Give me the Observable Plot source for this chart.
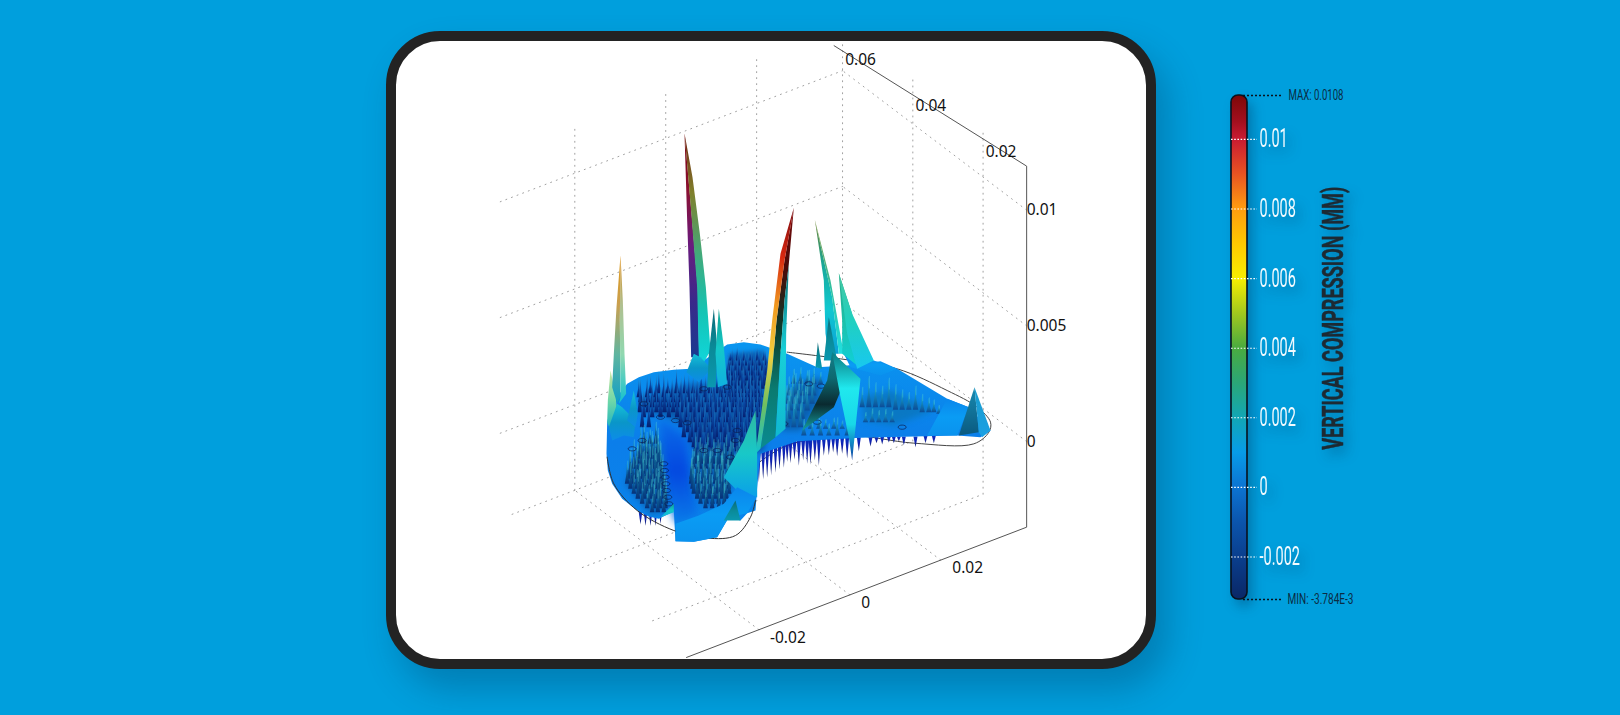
<!DOCTYPE html>
<html><head><meta charset="utf-8">
<script src="https://cdn.jsdelivr.net/npm/d3@7"></script>
<script src="https://cdn.jsdelivr.net/npm/@observablehq/plot@0.6"></script>
<style>
html,body{margin:0;padding:0;width:1620px;height:715px;overflow:hidden;background:#009fdd}
#card{position:absolute;left:386px;top:31px;width:750px;height:618px;border:10px solid #232323;border-radius:54px;background:#fff;overflow:hidden;box-shadow:12px 20px 34px rgba(0,60,100,.33)}
#card svg,#legend svg{display:block;background:transparent}
#legend{position:absolute;left:1220px;top:70px}
</style></head><body>
<div id="card"></div><div id="legend"></div>
<script>
// ---- axis ticks (model units) ----
const xTicks=[-0.02,0,0.02], xTickShift=[29,16,27];
const yTicks=[0.02,0.04,0.06];
const zTicks=[0,0.005,0.01];
const xExtent=[-0.0364,0.0389], yExtent=[0.0076,0.06], zExtent=[-0.0037,0.0119];
const floorLeft=-0.0338;
// ---- colour legend ----
const legendTicks=[-0.002,0,0.002,0.004,0.006,0.008,0.01];
const legendLabels=["-0.002","0","0.002","0.004","0.006","0.008","0.01"];
const legendEnds=[-0.00322,0.01126];
const legendTitle="VERTICAL COMPRESSION (MM)";
const maxLabel="MAX: 0.0108", minLabel="MIN: -3.784E-3";
const legendValues=[-0.00322,-0.002,-0.001,0,0.001,0.002,0.003,0.004,0.005,0.006,0.007,0.008,0.009,0.01,0.0105,0.01126];
const legendColors=["#0a2766","#0a3f8e","#0b55ad","#0c74d2","#079ce8","#12a6b4","#2ba677","#4aab3f","#a2c81e","#f8ee00","#ffc800","#ff9c10","#e95322","#c91b32","#a30f1e","#7d0808"];
// ---- plate in picture units ----
const plateTop=[[80,905],[88,870],[105,835],[140,790],[175,770],[220,755],[280,748],[330,745],[400,700],[440,672],[490,665],[540,672],[620,700],[710,740],[800,735],[900,722],[950,745],[1000,775],[1100,835],[1165,860],[1230,930],[1200,950],[1130,945],[840,952],[650,962],[540,1000],[530,1100],[525,1170],[500,1178],[480,1200],[445,1190],[410,1250],[340,1264],[285,1262],[280,1172],[235,1195],[205,1188],[170,1170],[125,1135],[95,1090],[82,1050],[78,1000]];
const rimBack=[[530,1030],[620,975],[800,945],[1000,968],[1180,970],[1225,935],[1230,905],[1190,860],[1100,810],[950,745],[780,715],[620,695]];
const rimFront=[[80,1010],[100,1090],[170,1170],[280,1230],[380,1253],[465,1245],[510,1190],[525,1140]];
const wedge=[[235,890],[320,950],[335,1100],[355,1185],[285,1210],[255,1100]];
const underC=[[185,830],[330,790],[560,790],[550,990],[350,1010],[310,910],[235,880],[185,880]];
const underD=[[445,700],[550,690],[565,800],[440,800]];
const underE=[[600,930],[640,790],[720,770],[720,840],[660,930]];
const underF=[[845,830],[930,810],[1060,870],[940,915],[850,900]];
const underA=[[195,960],[240,970],[262,1170],[210,1180],[135,1090]];
const underB=[[345,1000],[490,1000],[440,1130],[380,1165],[335,1100]];
// ---- small spike rows: base height in picture, spike height, positions ----
const blueRows=[
{v:720,h:40,us:[450,470,490,510,530,550]},
{v:735,h:50,us:[455,475,495,515,535,555]},
{v:750,h:60,us:[445,465,485,505,525,545,560]},
{v:765,h:65,us:[452,472,492,512,532,552]},
{v:780,h:70,us:[440,460,480,500,520,540,560]},
{v:795,h:75,us:[450,470,490,510,530,550]},
{v:805,h:75,us:[445,465,485,505,525,545]},
{v:818,h:70,us:[210,235,262,288,312,338,362,388,410,430,450,470,490,510,530]},
{v:830,h:70,us:[175,200,225,250,275,300,325,350,375,400,420,440,460,480,500,520,540]},
{v:845,h:80,us:[180,202,228,252,278,302,328,352,378,402,428,450,470,490,510,530]},
{v:860,h:80,us:[190,215,240,265,290,315,340,365,390,415,440,460,480,500,520,540]},
{v:875,h:88,us:[178,202,228,252,278,305,330,355,380,405,430,452,472,492,512,532]},
{v:890,h:90,us:[190,215,240,265,290,320,345,370,395,420,445,470,490,510,530]},
{v:905,h:95,us:[312,337,362,387,412,437,462,482,502,522,542]},
{v:920,h:100,us:[185,205,300,325,350,375,400,425,450,475,500,520,540]},
{v:935,h:100,us:[322,347,372,397,422,447,472,497,522]},
{v:950,h:100,us:[310,335,360,385,410,435,460,485,510,535]},
{v:965,h:98,us:[328,352,377,402,427,452,477,502,527]},
{v:980,h:95,us:[340,365,390,415,440,465,490,515]},
{v:992,h:80,us:[345,370,395,420,445,470,495]},
{v:1005,h:70,us:[350,375,400,425,450,475,500]}
];
const darkRows=[
{v:970,h:60,us:[190,208,226]},
{v:1000,h:75,us:[180,198,216,232]},
{v:1015,h:80,us:[178,196,214,232]},
{v:1030,h:85,us:[170,188,206,224,238,345,363,381,399,417,437,457,475]},
{v:1045,h:85,us:[160,180,198,216,232,340,358,376,394,412,430,450,468]},
{v:1060,h:85,us:[150,170,190,208,226,240,335,353,371,389,407,425,445,462]},
{v:1075,h:85,us:[148,167,186,205,223,240,333,351,369,387,405,423,442]},
{v:1090,h:85,us:[140,158,176,196,214,232,246,332,350,368,386,404,422,440]},
{v:1105,h:82,us:[150,169,188,207,226,244,336,354,372,390,408,426,444]},
{v:1120,h:80,us:[160,178,198,216,236,252,340,358,376,394,412,430,446]},
{v:1135,h:78,us:[172,192,212,232,250,350,368,386,404,422,438]},
{v:1150,h:75,us:[185,205,222,240,256,360,378,396,414,432]},
{v:1163,h:68,us:[200,220,238,255,375,395,415,430]},
{v:1175,h:65,us:[215,232,250]}
];
const tealRows=[
{v:790,h:50,us:[640,660,680,700,720]},
{v:825,h:70,us:[625,645,665,685,700]},
{v:850,h:78,us:[618,636,655,675,695]},
{v:860,h:85,us:[845,865,885,905,925]},
{v:868,h:70,us:[945,965,985,1005]},
{v:870,h:80,us:[610,630,650,680]},
{v:875,h:50,us:[1025,1045,1060]},
{v:880,h:30,us:[1075]},
{v:895,h:84,us:[605,625,645,665]},
{v:905,h:40,us:[855,875,895,915,935]},
{v:920,h:90,us:[600,620,640,660]},
{v:925,h:35,us:[690,715,735,760,785]},
{v:945,h:50,us:[670,695,720,745,770,800]}
];
// heights along a row are not even: relative heights read along a typical row
const rowProfile=[1,0.82,0.96,0.72,1.1,0.88,0.76,1.04,0.9];
const hanging=[[180,1170,1212],[195,1170,1216],[210,1170,1216],[225,1170,1216],[240,1165,1210],
[535,990,1086],[548,988,1078],[560,985,1072],[572,980,1064],[585,975,1056],[597,970,1046],[610,965,1042],[620,962,1024],[630,960,1028],[642,960,1018],[655,960,1036],[668,958,1020],[680,956,1030],[690,955,1032],[703,955,1020],[715,955,1036],[730,952,1006],[745,950,1004],[758,950,996],[770,950,1008],[785,950,1000],[800,950,1014],[835,950,992],[870,950,978],[888,950,968],[905,948,972],[925,948,966],[940,948,968],[955,948,962],[970,948,974],[1005,948,980],[1035,946,968],[1060,946,968]];
const rings=[[250,1030],[252,1050],[254,1070],[256,1090],[258,1110],[262,1130],[265,1150],[685,790],[722,797],[965,920],[370,805],[440,800],[190,850],[240,890],[285,900],[320,907],[155,985],[470,930],[465,960],[410,990],[185,960],[450,1010],[370,990],[610,910],[710,905]];
// ---- big spikes, back to front ----
const faces=[
{paint:"pale",pts:[[90,750],[82,840],[80,905],[90,930],[112,900],[105,820]]},
{paint:"s1L",pts:[[120,405],[108,560],[100,700],[95,800],[110,850],[120,830],[118,600]]},
{paint:"s1R",pts:[[120,405],[118,600],[120,830],[115,850],[137,820],[132,700],[127,540]]},
{paint:"flare",pts:[[85,920],[110,850],[125,860],[165,900],[160,950],[130,945],[95,960]]},
{paint:"flare",pts:[[140,900],[160,810],[172,880],[165,920]]},
{paint:"s2L",pts:[[312,38],[320,300],[327,500],[332,710],[356,710],[352,500],[335,300]]},
{paint:"s2R",pts:[[312,38],[330,250],[350,500],[356,750],[390,690],[376,500],[358,340],[336,170]]},
{paint:"flare",pts:[[340,700],[318,755],[355,785],[392,745],[360,710]]},
{paint:"tealD",pts:[[400,565],[385,700],[380,800],[405,800],[412,700]]},
{paint:"tealL",pts:[[415,565],[405,700],[412,800],[440,790],[430,680]]},
{paint:"s4L",pts:[[703,298],[730,480],[735,640],[745,700],[775,700],[755,530]]},
{paint:"s4R",pts:[[703,298],[755,530],[775,700],[790,700],[750,480]]},
{paint:"tealD",pts:[[712,665],[705,740],[725,745]]},
{paint:"tealD",pts:[[745,590],[730,720],[770,720]]},
{paint:"plateLight",pts:[[790,700],[880,720],[950,745],[900,765],[810,740]]},
{paint:"s5L",pts:[[775,458],[785,600],[785,700],[830,735],[815,580]]},
{paint:"s5R",pts:[[775,458],[815,580],[880,720],[830,745],[800,640]]},
{paint:"s6L",pts:[[755,695],[740,780],[690,880],[665,930],[760,860],[785,800]]},
{paint:"s6R",pts:[[755,695],[840,775],[815,1020],[805,950],[780,830]]},
{paint:"s3M",pts:[[640,262],[612,420],[588,600],[575,750],[540,985],[585,950],[600,700],[612,540],[625,430]]},
{paint:"s3L",pts:[[640,262],[600,400],[575,600],[560,750],[525,1000],[540,985],[575,750],[588,600],[612,420]]},
{paint:"s3R",pts:[[625,430],[612,540],[600,700],[585,950],[615,925],[617,640]]},
{paint:"front",pts:[[525,870],[490,960],[430,1070],[470,1110],[530,1130],[530,1000]]},
{paint:"plateLight",pts:[[285,1210],[285,1262],[340,1264],[410,1250],[445,1190],[500,1178],[528,1130],[470,1100],[430,1150],[355,1185]]},
{paint:"tealD",pts:[[465,1140],[430,1200],[480,1200]]},
{paint:"tealL",pts:[[280,1150],[240,1190],[280,1175]]},
{paint:"plateLight",pts:[[1100,835],[1165,860],[1130,945],[1040,945]]},
{paint:"s7L",pts:[[1182,800],[1135,945],[1195,935]]},
{paint:"s7R",pts:[[1182,800],[1195,935],[1205,950],[1230,930]]}
];
// ---- paints: gradient stops top to bottom ----
const paints={
pale:["#cbe6a0","#70d8a8","#18b0c0"],
s1L:["#e09a18","#c9a050","#5fb5a0","#0e9ec8"],
s1R:["#d88a18","#b0c090","#90d8b0","#10c0d0"],
flare:["#16c0d8","#0a96c8","#0c8ce8"],
s2L:["#7a0010","#8a1030","#6a1a7e","#3a2a8a","#1a3a90"],
s2R:["#702010","#80802c","#44a878","#14c4b4","#10d8e0"],
tealD:["#0c6a78","#0a8a98","#0a98b0"],
tealL:["#10a090","#14c8c8","#10b0e0"],
s4L:["#6a8030","#18a898","#10c8d0","#0aa0d8"],
s4R:["#8a9a40","#30c0a0","#20e0e0"],
plateLight:["#0a86ec","#0a9cf4","#0a92ee"],
s5L:["#28a888","#1cc0a8","#10d0d8"],
s5R:["#48c8a0","#20d0c0","#18c8f0"],
s6L:["#12808a","#0e6870","#0a2a30","#14a0a0"],
s6R:["#0a7a80","#20e8ee","#18d8e8","#0a3aa0"],
s3L:["#7a0a10","#d82810","#f09a20","#f0d040","#70c060","#10c0d0"],
s3M:["#7a0c0c","#4a0a08","#0a3a2a","#0a7a70","#0a8a90"],
s3R:["#0a6a70","#18d0d8","#10b8d0"],
front:["#30b8a0","#18c8c8","#0aa0e8"],
s7L:["#188ab0","#0a5a80"],
s7R:["#1a9ccc","#1aa0e4"]
};
const surfaceGradients={plate:["#0a96f0","#0b7eea","#0a86ec"],wedge:["#0a6ee8","#0448e0","#0a7ae8"],under:["#0a62b8","#0a4a96"],blue:["#2a98d0","#0a4eaa","#051f70"],dark:["#2fb8c0","#0c5a90","#05307a"],teal:["#3cc4c8","#1488b8","#0b4c98"],hang:["#0a30c0","#1020b0","#1a2a70"]};

// ---- projection of the model box into picture units ----
const P=(x,y,z)=>[888+13638*x-10539*y,1227-5223*x-7983*y-69432*z];
const seg=(a,b)=>({a:P(...a),b:P(...b)});
const [x0,x1]=xExtent,[y0,y1]=yExtent,[zl,zh]=zExtent;
const gridSegs=[
 ...zTicks.map(z=>seg([x0,y1,z],[x1,y1,z])),
 ...zTicks.map(z=>seg([x1,y0,z],[x1,y1,z])),
 ...xTicks.map(x=>seg([x,y1,zl],[x,y1,zh])),
 ...yTicks.map(y=>seg([x1,y,zl],[x1,y,zh])),
 ...xTicks.map(x=>seg([x,y0,zl],[x,y1,zl])),
 ...yTicks.map(y=>seg([floorLeft,y,zl],[x1,y,zl]))
];
const axisSegs=[seg([x1,y0,zl],[x1,y0,zh]),seg([x1,y0,zh],[x1,0.0625,0.0108]),seg([x1,y0,zl],[-0.036,y0,zl])];
const labels=[
 ...xTicks.map((t,i)=>{const p=P(t,y0,zl);return{u:p[0]+xTickShift[i]*3,v:p[1]+8*3,t:String(t)}}),
 ...yTicks.map(t=>{const q=[888+13638*x1-10539*t,0];return{u:q[0]+18*3,v:(166-0.654*(1026-(q[0]/3+580))+14-120)*3,t:String(t)}}),
];
const zLabels=zTicks.map(t=>{const p=P(x1,y0,t);return{u:p[0],v:p[1],t:String(t)}});

function gradient(id,stops){
 const g=document.createElementNS("http://www.w3.org/2000/svg","linearGradient");
 g.setAttribute("id",id);g.setAttribute("x1",0);g.setAttribute("y1",0);g.setAttribute("x2",0);g.setAttribute("y2",1);
 stops.forEach((c,i)=>{const s=document.createElementNS("http://www.w3.org/2000/svg","stop");
  s.setAttribute("offset",stops.length>1?i/(stops.length-1):0);s.setAttribute("stop-color",c);g.appendChild(s)});
 return g;
}
const defsMark=(entries)=>()=>{const d=document.createElementNS("http://www.w3.org/2000/svg","defs");
 entries.forEach(([id,st])=>d.appendChild(gradient(id,st)));return d};
const allGrad=[...Object.entries(paints).map(([k,v])=>["p_"+k,v]),...Object.entries(surfaceGradients).map(([k,v])=>["s_"+k,v])];

const soft="blur(0.4px)";
const poly=(pts,opt)=>Plot.line(pts,{x:d=>d[0],y:d=>d[1],curve:"linear-closed",stroke:"none",...opt});
const rowH=(r,j)=>r.h*rowProfile[(j+Math.round(r.v/15))%rowProfile.length];
const spikePolys=(rows,w)=>rows.slice().sort((a,b)=>a.v-b.v).flatMap((r,i)=>r.us.flatMap((u,j)=>{
 const id=i+"_"+j,h=rowH(r,j);return[{id,u:u-w,v:r.v},{id,u:u-w*0.3,v:r.v-h*0.45},{id,u,v:r.v-h},{id,u:u+w*0.3,v:r.v-h*0.45},{id,u:u+w,v:r.v}]}));
const tips=rows=>rows.flatMap(r=>r.us.map((u,j)=>({u:u+2,v:r.v,h:rowH(r,j)})));
const hangPolys=hanging.flatMap((h,i)=>[{id:i,u:h[0]-6,v:h[1]},{id:i,u:h[0]+6,v:h[1]},{id:i,u:h[0],v:h[2]}]);
const ringSymbol={draw(c,s){const r=Math.sqrt(s/Math.PI),a=r*1.35,b=r*0.7,k=0.5523;
 c.moveTo(-a,0);c.bezierCurveTo(-a,-b*k,-a*k,-b,0,-b);c.bezierCurveTo(a*k,-b,a,-b*k,a,0);c.bezierCurveTo(a,b*k,a*k,b,0,b);c.bezierCurveTo(-a*k,b,-a,b*k,-a,0);c.closePath()}};

const main=Plot.plot({
 width:750,height:618,margin:0,
 x:{domain:[-552,1698],range:[0,750],axis:null},
 y:{domain:[-237,1617],range:[0,618],axis:null},
 style:{background:"transparent",overflow:"hidden"},
 marks:[
  defsMark(allGrad),
  Plot.link(gridSegs,{x1:d=>d.a[0],y1:d=>d.a[1],x2:d=>d.b[0],y2:d=>d.b[1],stroke:"#a0a0a0",strokeWidth:1,strokeDasharray:"1 5",strokeLinecap:"round"}),
  Plot.link(axisSegs,{x1:d=>d.a[0],y1:d=>d.a[1],x2:d=>d.b[0],y2:d=>d.b[1],stroke:"#555",strokeWidth:1}),
  Plot.text(labels,{x:"u",y:"v",text:"t",fontSize:15.5,fontFamily:"Noto Sans",fill:"#111"}),
  Plot.text(zLabels,{x:"u",y:"v",text:"t",textAnchor:"start",fontSize:15.5,fontFamily:"Noto Sans",fill:"#111"}),
  Plot.line(rimBack,{x:d=>d[0],y:d=>d[1],curve:"catmull-rom",stroke:"#444",strokeWidth:1}),
  Plot.line(hangPolys,{x:"u",y:"v",z:"id",curve:"linear-closed",fill:"url(#s_hang)",stroke:"none",imageFilter:soft}),
  poly(plateTop,{fill:"url(#s_plate)",imageFilter:soft}),
  poly(underC,{fill:"url(#s_under)",imageFilter:"blur(3px)"}),
  poly(underD,{fill:"url(#s_under)",imageFilter:"blur(2px)"}),
  poly(wedge,{fill:"url(#s_wedge)",imageFilter:"blur(4px)"}),
  poly(underA,{fill:"#0a62b4",imageFilter:"blur(3px)"}),
  poly(underB,{fill:"#0a62b4",imageFilter:"blur(3px)"}),
  poly(underE,{fill:"#0a60b0",imageFilter:"blur(3px)"}),
  poly(underF,{fill:"#0a78c4",imageFilter:"blur(3px)"}),
  Plot.line(rimFront,{x:d=>d[0],y:d=>d[1],curve:"catmull-rom",stroke:"#333",strokeWidth:1}),
  Plot.line(spikePolys(blueRows,7),{x:"u",y:"v",z:"id",curve:"linear-closed",fill:"url(#s_blue)",stroke:"none",imageFilter:soft}),
  Plot.line(spikePolys(darkRows,7),{x:"u",y:"v",z:"id",curve:"linear-closed",fill:"url(#s_dark)",stroke:"none",imageFilter:soft}),
  Plot.line(spikePolys(tealRows,8),{x:"u",y:"v",z:"id",curve:"linear-closed",fill:"url(#s_teal)",stroke:"none",imageFilter:soft}),
  Plot.link(tips([...darkRows,...tealRows]),{x1:"u",y1:d=>d.v-d.h,x2:"u",y2:d=>d.v-d.h*0.6,stroke:"#58d8dc",strokeWidth:0.6,strokeOpacity:0.55}),
  Plot.dot(rings,{x:d=>d[0],y:d=>d[1],symbol:ringSymbol,r:3,stroke:"#0a1e50",strokeWidth:0.7,fill:"none"}),
  ...faces.map(f=>poly(f.pts,{fill:`url(#p_${f.paint})`,imageFilter:soft}))
 ]
});
document.getElementById("card").appendChild(main);

// ---- legend ----
const span=legendEnds[1]-legendEnds[0];
const stops=legendValues.map((v,i)=>[(legendEnds[1]-v)/span,legendColors[i]]);
const legendGrad=()=>{const d=document.createElementNS("http://www.w3.org/2000/svg","defs");
 const g=document.createElementNS("http://www.w3.org/2000/svg","linearGradient");g.setAttribute("id","bar");g.setAttribute("x1",0);g.setAttribute("y1",0);g.setAttribute("x2",0);g.setAttribute("y2",1);
 stops.slice().sort((a,b)=>a[0]-b[0]).forEach(([o,c])=>{const s=document.createElementNS("http://www.w3.org/2000/svg","stop");s.setAttribute("offset",o);s.setAttribute("stop-color",c);g.appendChild(s)});
 d.appendChild(g);return d};
const shadow="drop-shadow(5px 7px 6px rgba(0,50,90,.35))";
const legendData=legendTicks.map((v,i)=>({v,t:legendLabels[i]}));
const legend=Plot.plot({
 width:150,height:560,margin:0,
 x:{domain:[1220,1370],range:[0,150],axis:null},
 y:{domain:legendEnds,range:[529,25],axis:null},
 style:{background:"transparent",overflow:"visible"},
 marks:[
  legendGrad,
  Plot.rect([0],{x1:()=>1231,x2:()=>1247,y1:()=>legendEnds[0],y2:()=>legendEnds[1],fill:"url(#bar)",stroke:"#08121e",strokeWidth:1.6,rx:7,imageFilter:shadow}),
  Plot.ruleY(legendData,{y:"v",x1:()=>1231,x2:()=>1257,stroke:"#fff",strokeWidth:1.1,strokeDasharray:"1.6 1.6"}),
  Plot.ruleY([legendEnds[1]],{x1:()=>1243,x2:()=>1283,stroke:"#08121e",strokeWidth:1.3,strokeDasharray:"2 2"}),
  Plot.ruleY([legendEnds[0]],{x1:()=>1243,x2:()=>1283,stroke:"#08121e",strokeWidth:1.3,strokeDasharray:"2 2"}),
  Plot.text(legendData,{x:()=>1259,y:"v",text:"t",textAnchor:"start",fontSize:25,fontWeight:400,fontFamily:"Roboto",fill:"#f2fafe",imageFilter:shadow,className:"tickLbl"}),
  Plot.text([maxLabel],{x:()=>1288,y:()=>legendEnds[1],text:d=>d,textAnchor:"start",fontSize:14,fontFamily:"Roboto",fill:"#0b2c44",className:"maxLbl"}),
  Plot.text([minLabel],{x:()=>1287,y:()=>legendEnds[0],text:d=>d,textAnchor:"start",fontSize:14,fontFamily:"Roboto",fill:"#0b2c44",className:"minLbl"}),
  Plot.text([legendTitle],{x:()=>1333,y:()=>0.00486,text:d=>d,rotate:-90,fontSize:30,fontWeight:700,fontFamily:"Roboto",fill:"#1d2a33",stroke:"#1d2a33",strokeWidth:0.5,className:"titleLbl",imageFilter:shadow})
 ]
});
document.getElementById("legend").appendChild(legend);
// squeeze the condensed lettering to the reference widths
const fit=(sel,f)=>legend.querySelectorAll(sel+" text").forEach(t=>{const w=t.getComputedTextLength();t.setAttribute("textLength",f(w));t.setAttribute("lengthAdjust","spacingAndGlyphs")});
fit(".tickLbl",w=>w*0.58);
fit(".maxLbl",()=>55);
fit(".minLbl",()=>66);
fit(".titleLbl",()=>263);
</script>
</body></html>
